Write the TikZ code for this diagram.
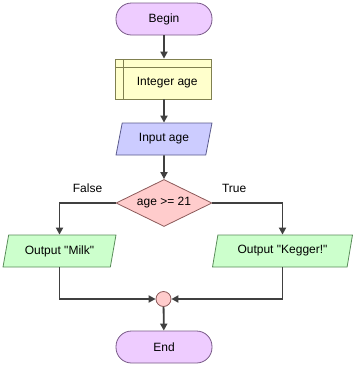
\documentclass[tikz,border=0pt]{standalone}
\usepackage{fontspec}
\setmainfont{Liberation Sans}
\usepackage{tikz}
\usetikzlibrary{shapes.geometric, arrows.meta, positioning}
\definecolor{termfill}{RGB}{238, 204, 255}
\definecolor{termline}{RGB}{120, 90, 135}
\definecolor{declfill}{RGB}{255, 255, 204}
\definecolor{declline}{RGB}{128, 128, 80}
\definecolor{infill}{RGB}{204, 204, 255}
\definecolor{inline}{RGB}{90, 90, 140}
\definecolor{decfill}{RGB}{255, 204, 204}
\definecolor{decline}{RGB}{140, 90, 90}
\definecolor{outfill}{RGB}{204, 255, 204}
\definecolor{outline}{RGB}{90, 140, 90}
\definecolor{flowgray}{RGB}{64, 64, 64}

\begin{document}
\begin{tikzpicture}[
        x=1pt, y=-1pt,
        every node/.style={font=\fontsize{12}{14}\selectfont},
        terminal/.style={draw=termline, fill=termfill, rounded corners=15.5pt,
                         minimum width=96pt, minimum height=32pt, line width=0.8pt},
        declare/.style={draw=declline, fill=declfill, minimum width=96pt, minimum height=40pt,
                        line width=0.8pt,
                        path picture={
                          \draw[declline, line width=0.8pt]
                            ([xshift=8.5pt]path picture bounding box.north west) --
                            ([xshift=8.5pt]path picture bounding box.south west);
                          \draw[declline, line width=0.8pt]
                            ([yshift=-8pt]path picture bounding box.north west) --
                            ([yshift=-8pt]path picture bounding box.north east);
                        }},
        io/.style={draw, trapezium, trapezium left angle=71, trapezium right angle=109,
                   trapezium stretches=true, minimum height=32pt, inner sep=0pt,
                   line width=0.8pt},
        decision/.style={draw=decline, fill=decfill, diamond, aspect=2.04, minimum width=96pt,
                         minimum height=47pt, inner sep=0pt, line width=0.8pt},
        merge/.style={draw=decline, fill=decfill, circle, minimum size=15pt, inner sep=0pt,
                      line width=0.8pt},
        arrow/.style={-{Triangle[length=7pt, width=7pt]}, draw=flowgray, line width=1.8pt}
      ]
        \useasboundingbox (0,0) rectangle (357,365);
        \node[terminal] (begin) at (164,19) {Begin};
        \node[declare] (decl) at (163,79)
              {\raisebox{-4pt}[\height][\depth]{\hspace{8.5pt}Integer age}};
        \node[io, draw=inline, fill=infill, minimum width=96pt] (input) at (164,139) {Input age};
        \node[decision] (dec) at (164,203) {age >= 21};
        \node[io, draw=outline, fill=outfill, minimum width=113pt]
              (milk) at (59.5,251) {Output \textquotedbl Milk\textquotedbl};
        \node[io, draw=outline, fill=outfill, minimum width=141pt]
              (kegger) at (282.5,251) {Output \textquotedbl Kegger!\textquotedbl};
        \node[merge] (join) at (163.5,299) {};
        \node[terminal] (end) at (164,347) {End};
        \draw[arrow] (begin) -- (decl.north -| begin);
        \draw[arrow] (decl.south -| begin) -- (input);
        \draw[arrow] (input) -- (dec);
        \draw[arrow] (dec.west) -| node[pos=0.25, above=6pt]{False} (milk.north);
        \draw[arrow] (dec.east) -| node[pos=0.155, above=6pt]{True} (kegger.north);
        \draw[arrow] (milk.south) |- (join.west);
        \draw[arrow] (kegger.south) |- (join.east);
        \draw[arrow] (join) -- (end);
      \end{tikzpicture}
\end{document}
